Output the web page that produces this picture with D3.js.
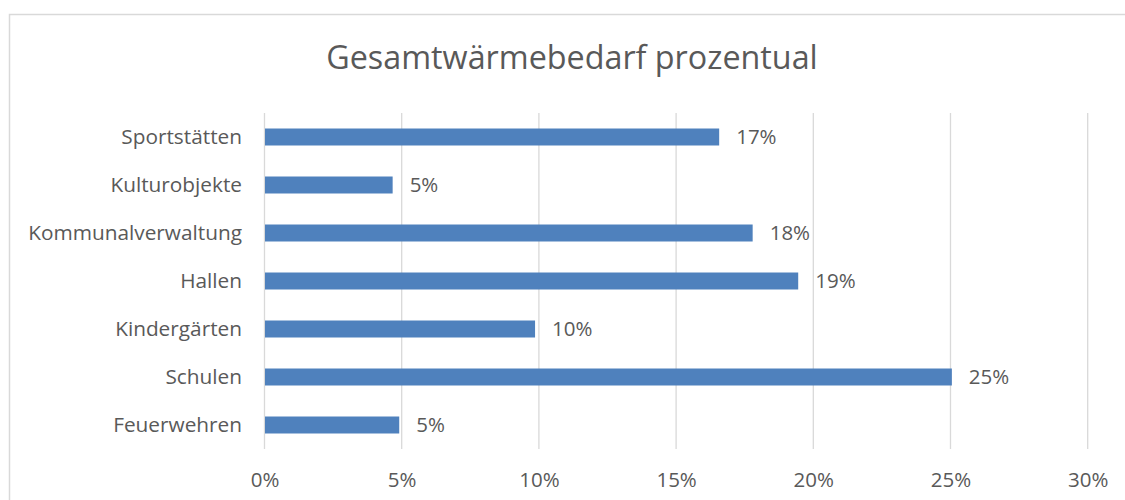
<!DOCTYPE html>
<html>
<head>
<meta charset="utf-8">
<script src="https://cdn.jsdelivr.net/npm/d3@7"></script>
<style>
  body { margin: 0; background: #fff; }
  svg text { font-family: "Open Sans", Lato, sans-serif; fill: #595959; }
</style>
</head>
<body>
<div id="chart"></div>
<script>
// Daten
var kategorien = ['Sportstätten', 'Kulturobjekte', 'Kommunalverwaltung', 'Hallen', 'Kindergärten', 'Schulen', 'Feuerwehren'];
var anteile = [16.57, 4.67, 17.79, 19.45, 9.86, 25.05, 4.91];
var beschriftungen = ['17%', '5%', '18%', '19%', '10%', '25%', '5%'];
var achsenWerte = [0, 5, 10, 15, 20, 25, 30];
var titel = 'Gesamtwärmebedarf prozentual';

var width = 1125, height = 500;

var svg = d3.select('#chart').append('svg')
    .attr('width', width)
    .attr('height', height);

// Rahmen
svg.append('rect')
    .attr('x', 9.5).attr('y', 14.5)
    .attr('width', 1130).attr('height', 500)
    .attr('fill', 'none')
    .attr('stroke', '#d9d9d9')
    .attr('stroke-width', 1.5);

svg.append('text')
    .attr('x', 572)
    .attr('y', 69)
    .attr('text-anchor', 'middle')
    .style('font-size', '32.3px')
    .text(titel);

var x = d3.scaleLinear().domain([0, 30]).range([264.5, 1087.7]);
var y = d3.scaleBand().domain(kategorien).range([113, 449]).paddingInner(0.646).paddingOuter(0.323);

// Gitterlinien
svg.append('g').selectAll('line')
    .data(achsenWerte)
    .enter().append('line')
    .attr('x1', d => x(d)).attr('x2', d => x(d))
    .attr('y1', 113).attr('y2', 449)
    .attr('stroke', '#d9d9d9')
    .attr('stroke-width', 1.3);

// X-Achse Beschriftung
var xAxis = d3.axisBottom(x).tickValues(achsenWerte).tickSize(0).tickPadding(0).tickFormat(d => d + '%');
var gx = svg.append('g').attr('transform', 'translate(0,472)').call(xAxis);
gx.select('.domain').remove();
gx.selectAll('text').style('font-size', '20.5px').attr('fill', '#595959').attr('font-family', null);

// Y-Achse Beschriftung
var yAxis = d3.axisLeft(y).tickSize(0).tickPadding(0);
var gy = svg.append('g').attr('transform', 'translate(242,0)').call(yAxis);
gy.select('.domain').remove();
gy.selectAll('text').style('font-size', '20.8px').attr('fill', '#595959').attr('font-family', null);

// Balken
var daten = kategorien.map((k, i) => ({ k: k, v: anteile[i], l: beschriftungen[i] }));

svg.append('g').selectAll('rect')
    .data(daten)
    .enter().append('rect')
    .attr('x', x(0) + 0.5)
    .attr('y', d => y(d.k))
    .attr('width', d => x(d.v) - x(0) - 0.5)
    .attr('height', y.bandwidth())
    .attr('fill', '#4f81bd');

svg.append('g').selectAll('text')
    .data(daten)
    .enter().append('text')
    .attr('x', d => x(d.v) + 17)
    .attr('y', d => y(d.k) + y.bandwidth() / 2)
    .attr('dy', '0.35em')
    .style('font-size', '20.5px')
    .text(d => d.l);
</script>
</body>
</html>
